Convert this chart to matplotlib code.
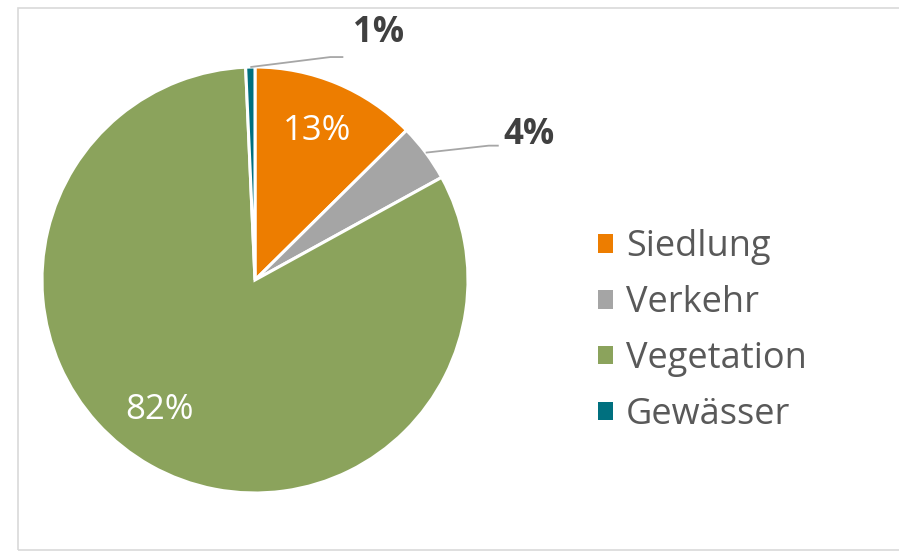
import numpy as np
import matplotlib.pyplot as plt
import matplotlib.patches as patches

# Flächennutzung (Anteile in %)
kategorien = ["Siedlung", "Verkehr", "Vegetation", "Gewässer"]
anteile = [12.6, 4.4, 82.3, 0.7]
farben = ["#ed7d00", "#a5a5a5", "#8ba35c", "#00707f"]
label_innen = [True, False, True, False]

plt.rcParams["font.family"] = ["Open Sans", "DejaVu Sans"]

W, H = 899, 551
fig = plt.figure(figsize=(W / 100, H / 100), dpi=100)
ax = fig.add_axes([0, 0, 1, 1])

# Pixel-Koordinaten (y nach oben)
cx, cy, R = 255, H - 280, 213

wedges, _ = ax.pie(
    anteile,
    colors=farben,
    startangle=90,
    counterclock=False,
    center=(cx, cy),
    radius=R,
    wedgeprops=dict(edgecolor="white", linewidth=2.2),
)
ax.set_xlim(0, W)
ax.set_ylim(0, H)
ax.set_aspect("equal")
ax.axis("off")

# Führungslinien für die kleinen Segmente: (Knick dx, dy, Ende dx, Text dx, dy)
fuehrung = {1: (63, 7, 10, 5, 11), 3: (80, 10, 13, 10, 24)}
# Innenlabels: (Radius-Faktor, Winkelkorrektur in Grad)
innen_pos = {0: (0.76, 0), 2: (0.76, -7)}

for i, (w, wert) in enumerate(zip(wedges, anteile)):
    mitte = np.deg2rad((w.theta1 + w.theta2) / 2)
    txt = f"{int(wert + 0.5)}%"
    if label_innen[i]:
        f, dw = innen_pos[i]
        a = mitte + np.deg2rad(dw)
        ax.text(cx + f * R * np.cos(a), cy + f * R * np.sin(a), txt,
                ha="center", va="center", color="white", fontsize=25)
    else:
        kx, ky, ex, tx, ty = fuehrung[i]
        x0, y0 = cx + R * np.cos(mitte), cy + R * np.sin(mitte)
        x1, y1 = x0 + kx, y0 + ky
        x2 = x1 + ex
        ax.plot([x0, x1, x2], [y0, y1, y1], color="#a6a6a6", lw=1.3,
                solid_capstyle="butt")
        ax.text(x2 + tx, y1 + ty, txt, ha="left", va="center",
                color="#404040", fontsize=25, fontweight="bold")

leg = ax.legend(
    wedges, kategorien,
    loc="center left",
    bbox_to_anchor=(598, H - 331),
    bbox_transform=ax.transData,
    frameon=False,
    fontsize=26,
    handlelength=0.42,
    handleheight=0.42,
    handletextpad=0.35,
    labelspacing=0.55,
    borderpad=0,
    borderaxespad=0,
)
for t in leg.get_texts():
    t.set_color("#595959")
for h in leg.legend_handles:
    h.set_edgecolor("none")

# Rahmen des Diagrammbereichs
fig.patches.append(patches.Rectangle((18, 1.5), 900, H - 9, transform=None,
                                     fill=False, edgecolor="#d9d9d9", lw=1.2))

fig.savefig("out.png", dpi=100)
